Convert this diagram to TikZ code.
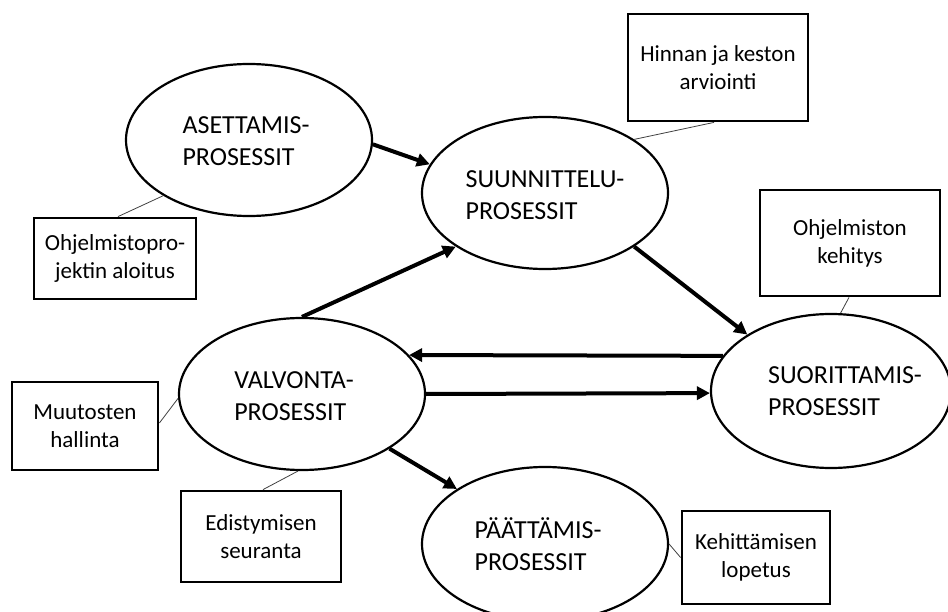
\documentclass[tikz,border=0pt]{standalone}
\usepackage{fontspec}
\setmainfont{Carlito}
\usetikzlibrary{shapes.geometric,arrows.meta}

\begin{document}
\begin{tikzpicture}[x=1pt,y=-1pt,
  proc/.style={draw, ellipse, line width=2.2pt, inner sep=0pt},
  proclabel/.style={align=left, inner sep=0pt, font=\fontsize{26}{31.5}\selectfont},
  note/.style={draw, line width=2.8pt, inner sep=0pt, align=center,
    font=\fontsize{23}{28}\selectfont},
  flow/.style={line width=4pt, -{Triangle[length=13pt,width=13pt]}},
  tie/.style={line width=0.8pt, draw=black!75}
]
\useasboundingbox (0,0) rectangle (948,612);

% process ellipses
\node[proc, minimum width=246pt, minimum height=152pt] (A) at (249,140) {};
\node[proc, minimum width=246pt, minimum height=152pt] (S) at (545,193) {};
\node[proc, minimum width=240pt, minimum height=154pt] (R) at (831,391) {};
\node[proc, minimum width=246pt, minimum height=152pt] (V) at (302,394) {};
\node[proc, minimum width=246pt, minimum height=154pt] (P) at (545,544) {};

% process names
\node[proclabel] (At) at (246,141) {ASETTAMIS-\\PROSESSIT};
\node[proclabel] (St) at (545,195) {SUUNNITTELU-\\PROSESSIT};
\node[proclabel] (Rt) at (845,391) {SUORITTAMIS-\\PROSESSIT};
\node[proclabel] (Vt) at (294,396) {VALVONTA-\\PROSESSIT};
\node[proclabel] (Pt) at (538,544) {PÄÄTTÄMIS-\\PROSESSIT};

% activity boxes
\node[note, minimum width=180pt, minimum height=107pt] (h) at (718,67.5) {Hinnan ja keston\\arviointi};
\node[note, minimum width=180pt, minimum height=106pt] (k) at (850,243) {Ohjelmiston\\kehitys};
\node[note, minimum width=162pt, minimum height=81pt] (o) at (115,258.5) {Ohjelmistopro-\\jektin aloitus};
\node[note, minimum width=146pt, minimum height=88pt] (m) at (85,426) {Muutosten\\hallinta};
\node[note, minimum width=160pt, minimum height=91pt] (e) at (261,536.5) {Edistymisen\\seuranta};
\node[note, minimum width=148pt, minimum height=93pt] (l) at (756,557.5) {Kehittämisen\\lopetus};

% process flow
\draw[flow] (A.-2) -- (S.166);
\draw[flow] (V.north) -- (S.211);
\draw[flow] (S.-31) -- (R.146);
\draw[flow] (R.162) -- (V.20);
\draw[flow] (V.east) -- (R.181);
\draw[flow] (V.-32) -- (P.148);

% box attachments
\draw[tie] ([xshift=3pt]o.north) -- (A.213);
\draw[tie] ([xshift=-4pt]h.south) -- (S.31);
\draw[tie] ([xshift=-1pt]k.south) -- (R.83);
\draw[tie] ([yshift=3pt]m.east) -- (V.182);
\draw[tie] ([xshift=2pt]e.north) -- (V.267);
\draw[tie] (l.west) -- (P.east);
\end{tikzpicture}
\end{document}
